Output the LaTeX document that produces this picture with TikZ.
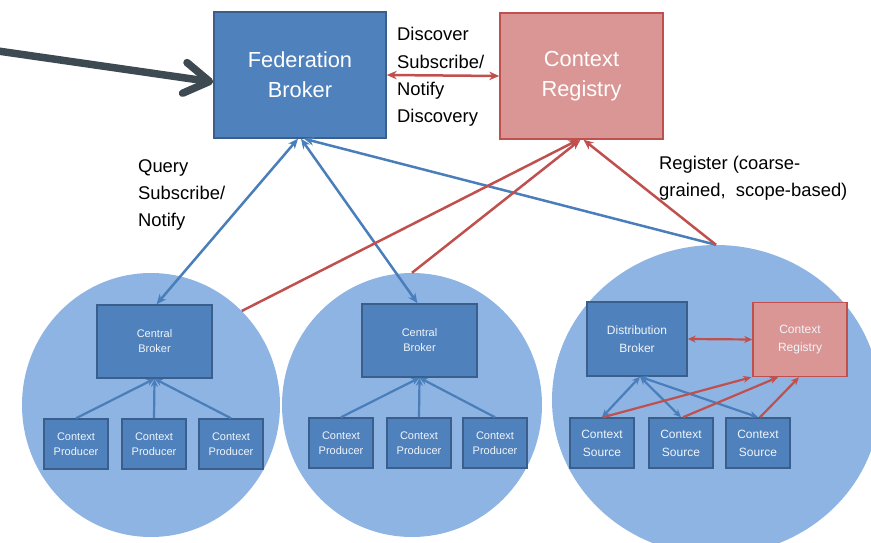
\documentclass[tikz,border=0pt]{standalone}
\usepackage{fontspec}
\setmainfont{Liberation Sans}
\usetikzlibrary{arrows.meta,shapes.geometric}
\definecolor{circfill}{HTML}{8DB4E2}
\definecolor{boxfill}{HTML}{4F81BD}
\definecolor{boxdraw}{HTML}{3A5F8C}
\definecolor{regfill}{HTML}{D99694}
\definecolor{regdraw}{HTML}{C0504D}
\definecolor{bluearr}{HTML}{4A7EBB}
\definecolor{redarr}{HTML}{C0504D}
\definecolor{darkarr}{HTML}{3E4A52}
\tikzset{
  atip/.tip={Stealth[length=10pt,width=8.5pt]},
  ftip/.tip={Stealth[length=8pt,width=7pt]}
}
\begin{document}
\begin{tikzpicture}[x=1pt,y=-1pt,
  domainell/.style={ellipse,fill=circfill,draw=none,inner sep=0pt},
  bigbox/.style={draw=boxdraw,fill=boxfill,line width=1.5pt,text=white,align=center,inner sep=0pt,
    minimum width=172pt,minimum height=126pt,font=\fontsize{21.8}{30}\selectfont},
  bigreg/.style={bigbox,draw=regdraw,fill=regfill,minimum width=163pt},
  midbox/.style={draw=boxdraw,fill=boxfill,line width=1.5pt,text=white!92!boxfill,align=center,inner sep=0pt,
    minimum width=115pt,minimum height=73pt,font=\fontsize{11}{15}\selectfont},
  smallbox/.style={midbox,minimum width=64pt,minimum height=50pt},
  rmidbox/.style={midbox,minimum width=100pt,minimum height=74pt,font=\fontsize{12}{18}\selectfont},
  rregbox/.style={rmidbox,draw=regdraw,fill=regfill,minimum width=94pt},
  rsmallbox/.style={smallbox,font=\fontsize{12}{18}\selectfont},
  lbl/.style={anchor=west,align=left,inner sep=0pt,text=black,font=\fontsize{18.4}{27.4}\selectfont},
  blueline/.style={draw=bluearr,line width=2.5pt},
  redline/.style={draw=redarr,line width=2.5pt}
]
\useasboundingbox (0,0) rectangle (871,543);

% domains
\node[domainell,minimum width=258pt,minimum height=264pt] (lc) at (151,405) {};
\node[domainell,minimum width=260pt,minimum height=264pt] (mc) at (412,405) {};
\node[domainell,minimum width=328pt,minimum height=310pt] (rc) at (716,400) {};

% top level
\node[bigbox] (fb) at (300,75) {Federation\\Broker};
\node[bigreg] (cr) at (581.5,76) {Context\\Registry};

% left domain
\node[midbox] (lcb) at (154.5,341.5) {Central\\Broker};
\node[smallbox] (lp1) at (76,444) {Context\\Producer};
\node[smallbox] (lp2) at (154,444) {Context\\Producer};
\node[smallbox] (lp3) at (231,444) {Context\\Producer};

% middle domain
\node[midbox] (mcb) at (419.5,340.5) {Central\\Broker};
\node[smallbox] (mp1) at (341,443) {Context\\Producer};
\node[smallbox] (mp2) at (419,443) {Context\\Producer};
\node[smallbox] (mp3) at (495,443) {Context\\Producer};

% right domain
\node[rmidbox] (db) at (637,339) {Distribution\\Broker};
\node[rregbox] (scr) at (800,339.5) {Context\\Registry};
\node[rsmallbox] (rs1) at (602,443) {Context\\Source};
\node[rsmallbox] (rs2) at (681,443) {Context\\Source};
\node[rsmallbox] (rs3) at (758,443) {Context\\Source};

% labels
\node[lbl] (lbdisc) at (397,77) {Discover\\Subscribe/\\Notify\\Discovery};
\node[lbl] (lbquery) at (138,195) {Query\\Subscribe/\\Notify};
\node[lbl] (lbreg) at (659,178) {Register (coarse-\\grained,\ \ scope-based)};

% incoming request
\coordinate (client) at (-2,51);
\draw[draw=darkarr,line width=7.5pt,line cap=round,line join=round,
  -{Straight Barb[length=25pt,width=31pt,line cap=round,line join=round]}]
  (client) -- ([yshift=-7pt]fb.west);

% federation broker <-> context registry
\draw[redline,{atip}-{atip}] (fb.east) -- (cr.west);

% federation broker <-> domains
\draw[blueline,{atip}-{atip}] ([xshift=-2pt]fb.south) -- ([xshift=2pt]lcb.north);
\draw[blueline,{atip}-{atip}] ([xshift=1pt]fb.south) -- ([xshift=-2pt]mcb.north);
\draw[blueline,{atip}-] ([xshift=4pt]fb.south) -- (rc.north);

% registrations with the context registry
\draw[redline,-{atip}] (lc.46) -- ([xshift=-3pt]cr.south);
\draw[redline,-{atip}] (mc.north) -- ([xshift=-1pt]cr.south);
\draw[redline,-{atip}] (rc.north) -- ([xshift=2pt]cr.south);

% producers to central brokers
\foreach \p in {lp1,lp2,lp3}
  \draw[blueline,line width=2.2pt,-{ftip}] (\p.north) -- (lcb.south);
\foreach \p in {mp1,mp2,mp3}
  \draw[blueline,line width=2.2pt,-{ftip}] (\p.north) -- (mcb.south);

% distribution broker <-> sources and local registry
\draw[redline,line width=2.2pt,{ftip}-{ftip}] (db.east) -- (scr.west);
\foreach \s in {rs1,rs2,rs3}
  \draw[blueline,line width=2.2pt,{ftip}-{ftip}] ([xshift=3pt]db.south) -- (\s.north);
\draw[redline,line width=2.2pt,-{ftip}] ([xshift=1pt]rs1.north) -- ([xshift=-1pt]scr.south west);
\draw[redline,line width=2.2pt,-{ftip}] ([xshift=2pt]rs2.north) -- ([xshift=-22pt]scr.south);
\draw[redline,line width=2.2pt,-{ftip}] ([xshift=2pt]rs3.north) -- ([xshift=-1pt]scr.south);
\end{tikzpicture}
\end{document}
